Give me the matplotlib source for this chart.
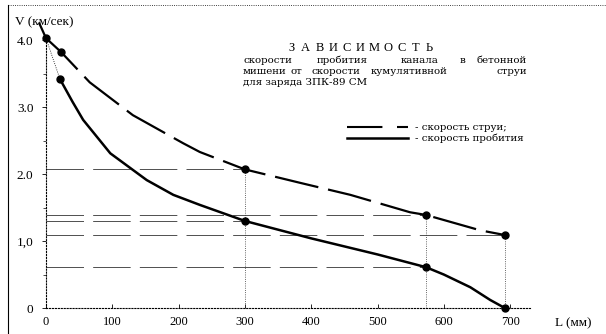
import matplotlib
matplotlib.use('Agg')
import matplotlib.pyplot as plt
from matplotlib.lines import Line2D

plt.rcParams['font.family'] = ['Liberation Serif', 'DejaVu Serif']
note_font = ['DejaVu Serif']

# скорость струи (dashed)
jet_L = [0, 23, 66, 131, 207, 232, 300, 383, 459, 549, 573, 655, 692]
jet_V = [4.03, 3.82, 3.37, 2.88, 2.46, 2.33, 2.07, 1.87, 1.69, 1.43, 1.39, 1.16, 1.09]
jet_pts_L = [23, 300, 573, 692]
jet_pts_V = [3.82, 2.07, 1.39, 1.09]

# скорость пробития (solid)
pen_L = [21, 40, 56, 97, 152, 192, 232, 300, 400, 500, 573, 600, 640, 670, 692]
pen_V = [3.42, 3.08, 2.81, 2.31, 1.91, 1.69, 1.54, 1.30, 1.04, 0.80, 0.61, 0.50, 0.31, 0.12, 0.0]
pen_pts_L = [21, 300, 573, 692]
pen_pts_V = [3.42, 1.30, 0.61, 0.0]

# guide lines: (value, extends to L)
h_guides = [(2.07, 300), (1.39, 573), (1.30, 300), (1.09, 692), (0.61, 573)]
v_guides = [(300, 2.07), (573, 1.39), (692, 1.09)]

xticks = [0, 100, 200, 300, 400, 500, 600, 700]
yticks = [0, 1.0, 2.0, 3.0, 4.0]
yticklabels = ['0', '1,0', '2.0', '3.0', '4.0']

title_word = 'ЗАВИСИМОСТЬ'
# words and their centre x in the scan (pixels)
title_lines = [
    (['скорости', 'пробития', 'канала', 'в', 'бетонной'], [266, 342, 420, 462, 503]),
    (['мишени', 'от', 'скорости', 'кумулятивной', 'струи'], [261, 296, 336, 409, 492]),
    (['для заряда ЗПК-89 СМ'], [243]),
]
legend_labels = ['- скорость струи;', '- скорость пробития']

W, H = 606, 334
fig = plt.figure(figsize=(W / 100, H / 100), dpi=100)
ax = fig.add_axes([0.0759, 0.0778, 0.7987, 0.822])

for v, l in h_guides:
    ax.plot([0, l], [v, v], color='0.2', lw=0.6, dashes=(45, 11))
for l, v in v_guides:
    ax.plot([l, l], [0, v], color='0.2', lw=0.6, ls=':')

ax.plot(jet_L, jet_V, color='k', lw=1.6, dashes=(20, 4.5))
ax.plot([-10, jet_L[0]], [4.25, jet_V[0]], color='k', lw=1.6, clip_on=False)
ax.plot([0, pen_L[0]], [4.03, pen_V[0]], color='k', lw=0.6, ls=':')
ax.plot(pen_L, pen_V, color='k', lw=1.8)

ax.plot([0], [4.03], 'ko', ms=5, clip_on=False)
ax.plot(jet_pts_L, jet_pts_V, 'ko', ms=5, clip_on=False)
ax.plot(pen_pts_L, pen_pts_V, 'ko', ms=5, clip_on=False)

ax.set_xlim(0, 730)
ax.set_ylim(0, 4.1)
for s in ['top', 'right']:
    ax.spines[s].set_visible(False)
ax.spines['left'].set_linestyle(':')
ax.spines['bottom'].set_linestyle(':')
ax.spines['left'].set_linewidth(0.8)
ax.spines['bottom'].set_linewidth(0.8)
ax.spines['left'].set_bounds(0, 4.03)

ax.set_xticks(xticks)
ax.set_xticklabels([str(t) for t in xticks], fontsize=9)
ax.set_yticks(yticks)
ax.set_yticklabels(yticklabels, fontsize=9.5)
ax.set_yticks([0.5, 1.5, 2.5, 3.5], minor=True)
ax.tick_params(axis='x', direction='in', length=3, width=0.6, pad=6)
ax.tick_params(axis='y', direction='out', length=3, width=0.6, pad=6)
ax.tick_params(axis='y', which='minor', direction='out', length=2, width=0.5)

fig.text(15 / W, 1 - 22 / H, 'V (км/сек)', fontsize=9.5, ha='left', va='center')
fig.text(555 / W, 1 - 323 / H, 'L (мм)', fontsize=9.5, ha='left', va='center')

# title letters spread like in the scan
n = len(title_word)
for i, ch in enumerate(title_word):
    x = 292 + i * (429 - 292) / (n - 1)
    fig.text(x / W, 1 - 51 / H, ch, fontsize=9, ha='center', va='baseline')
for row, (words, xs) in enumerate(title_lines):
    y = 1 - (63 + row * 11) / H
    for j, (w, x) in enumerate(zip(words, xs)):
        if len(words) == 1:
            ha = 'left'
        elif j == 0:
            ha, x = 'left', 243
        elif j == len(words) - 1:
            ha, x = 'right', 527
        else:
            ha = 'center'
        fig.text(x / W, y, w, fontsize=7.4, ha=ha, va='baseline', family=note_font)

fig.add_artist(Line2D([347 / W, 408 / W], [1 - 127 / H] * 2, color='k', lw=1.5, dashes=(17, 7)))
fig.add_artist(Line2D([347 / W, 408 / W], [1 - 138 / H] * 2, color='k', lw=1.8))
fig.text(415 / W, 1 - 130 / H, legend_labels[0], fontsize=7.4, ha='left', va='baseline', family=note_font)
fig.text(415 / W, 1 - 141 / H, legend_labels[1], fontsize=7.4, ha='left', va='baseline', family=note_font)

# outer frame of the scan
fig.add_artist(Line2D([8 / W, 1.0], [1 - 5 / H] * 2, color='k', lw=0.6, ls=':'))
fig.add_artist(Line2D([8 / W, 8 / W], [0.0, 1 - 5 / H], color='k', lw=0.8))

fig.savefig('out.png', dpi=100)
